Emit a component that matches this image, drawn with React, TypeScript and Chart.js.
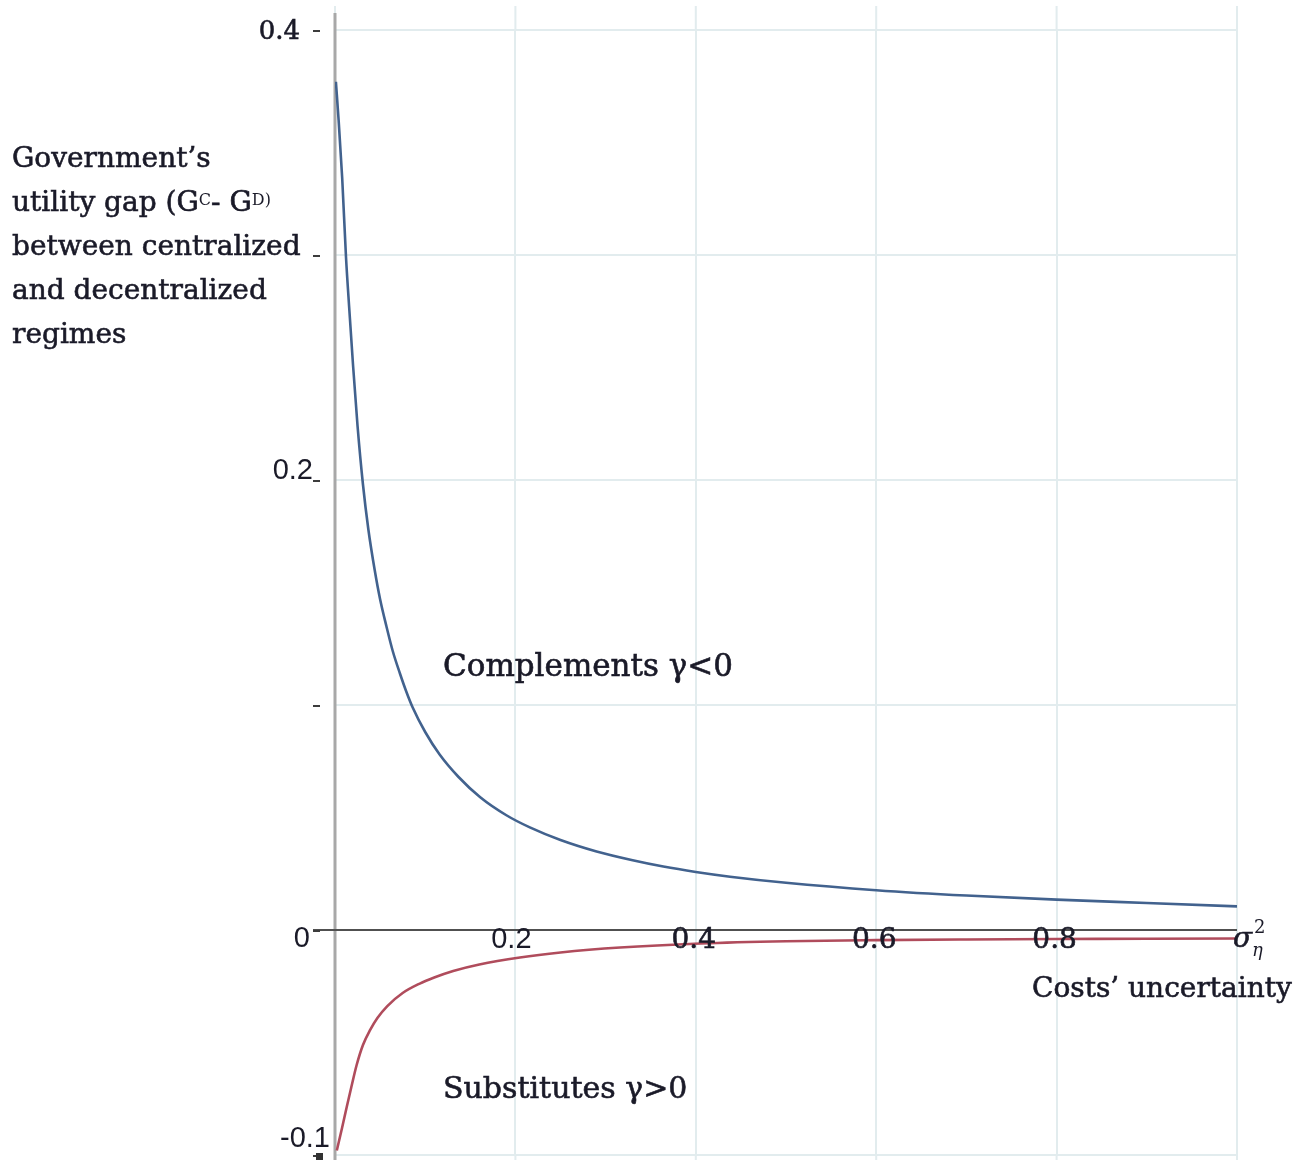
import React, { useEffect, useRef } from "react";
import { Chart, registerables } from "chart.js";

Chart.register(...registerables);

// ---- data ----
const complementsX = [0.001, 0.004, 0.008, 0.0122, 0.016, 0.02, 0.025, 0.031, 0.037, 0.044, 0.05, 0.057, 0.064, 0.072, 0.079, 0.086, 0.1, 0.116, 0.137, 0.161, 0.19, 0.216, 0.25, 0.29, 0.33, 0.364, 0.4, 0.438, 0.5, 0.6, 0.7, 0.8, 0.9, 1.0];
const complementsY = [0.377, 0.36, 0.334, 0.299, 0.275, 0.251, 0.224, 0.198, 0.178, 0.16, 0.147, 0.135, 0.124, 0.114, 0.106, 0.099, 0.088, 0.078, 0.068, 0.059, 0.051, 0.0456, 0.04, 0.0349, 0.031, 0.0282, 0.0258, 0.0237, 0.021, 0.0177, 0.0153, 0.0135, 0.012, 0.0105];

const substitutesX = [0.002, 0.0078, 0.013, 0.018, 0.024, 0.031, 0.039, 0.047, 0.058, 0.075, 0.094, 0.11, 0.131, 0.16, 0.205, 0.25, 0.316, 0.405, 0.5, 0.6, 0.7, 0.8, 0.9, 1.0];
const substitutesY = [-0.098, -0.088, -0.0787, -0.07, -0.06, -0.0511, -0.0444, -0.0391, -0.0338, -0.028, -0.0238, -0.0211, -0.0182, -0.0153, -0.0122, -0.01, -0.0078, -0.006, -0.005, -0.0045, -0.0042, -0.004, -0.0039, -0.0038];

const yTickMarks = [0.4, 0.3, 0.2, 0.1, 0, -0.1];
const yTickValues = [0.4, 0.2, 0, -0.1];
const yTickLabels = ["0.4", "0.2", "0", "-0.1"];
const yTickSerif = [true, false, false, false];
const xTickValues = [0.2, 0.4, 0.6, 0.8];
const xTickLabels = ["0.2", "0.4", "0.6", "0.8"];
const xTickSerif = [false, true, true, true];

const yTitleLines = ["Government\u2019s", "utility gap (G", "between centralized", "and decentralized", "regimes"];
const complementsLabel = "Complements \u03b3<0";
const substitutesLabel = "Substitutes \u03b3>0";
const xTitle = "Costs\u2019 uncertainty";

// ---- style ----
const SERIF = '"DejaVu Serif", serif';
const SANS = '"Liberation Sans", sans-serif';
const TEXT = "#1a1a28";
const BLUE = "rgb(66,98,142)";
const RED = "rgb(176,76,92)";
const GRID = "rgb(226,236,238)";

function heavyText(ctx: CanvasRenderingContext2D, s: string, x: number, y: number) {
  ctx.fillText(s, x, y);
  ctx.strokeText(s, x, y);
}

const decor = {
  id: "decor",
  beforeDatasetsDraw(chart: any) {
    const ctx = chart.ctx;
    const xs = chart.scales.x;
    const ys = chart.scales.y;
    const x0 = xs.getPixelForValue(0);
    const x1 = xs.getPixelForValue(1);
    const y0 = ys.getPixelForValue(0);
    ctx.save();
    ctx.strokeStyle = GRID;
    ctx.lineWidth = 2;
    xs.ticks.forEach((t: any) => {
      const px = xs.getPixelForValue(t.value);
      ctx.beginPath();
      ctx.moveTo(px, 6);
      ctx.lineTo(px, chart.chartArea.top);
      ctx.moveTo(px, chart.chartArea.bottom);
      ctx.lineTo(px, 1160);
      ctx.stroke();
    });
    ctx.strokeStyle = "rgb(168,168,168)";
    ctx.lineWidth = 3;
    ctx.beginPath();
    ctx.moveTo(x0, 13);
    ctx.lineTo(x0, 1160);
    ctx.stroke();
    ctx.strokeStyle = "rgb(80,80,80)";
    ctx.lineWidth = 2;
    ctx.beginPath();
    ctx.moveTo(x0 - 22, y0);
    ctx.lineTo(x1, y0);
    ctx.stroke();
    ctx.strokeStyle = "rgb(60,60,60)";
    ctx.lineWidth = 2;
    yTickMarks.forEach((v) => {
      const py = ys.getPixelForValue(v);
      ctx.beginPath();
      ctx.moveTo(x0 - 22, py + 1);
      ctx.lineTo(x0 - 15, py + 1);
      ctx.stroke();
    });
    ctx.fillStyle = "rgb(50,50,50)";
    ctx.fillRect(x0 - 19, ys.getPixelForValue(-0.1) - 2, 7, 7);
    ctx.restore();
  },
  afterDraw(chart: any) {
    const ctx = chart.ctx;
    const xs = chart.scales.x;
    const ys = chart.scales.y;
    const x0 = xs.getPixelForValue(0);
    const x1 = xs.getPixelForValue(1);
    const y0 = ys.getPixelForValue(0);
    ctx.save();
    ctx.fillStyle = TEXT;
    ctx.strokeStyle = TEXT;
    ctx.lineWidth = 0.6;
    ctx.textBaseline = "alphabetic";

    yTickValues.forEach((v, i) => {
      const py = ys.getPixelForValue(v);
      ctx.textAlign = "right";
      if (yTickSerif[i]) {
        ctx.font = `26px ${SERIF}`;
        heavyText(ctx, yTickLabels[i], x0 - 35, py + 9);
      } else {
        ctx.font = `29px ${SANS}`;
        const dy = v === 0 ? 17 : v < 0 ? -8 : -1;
        const dx = v === 0 ? -25 : v < 0 ? -5 : -22;
        ctx.fillText(yTickLabels[i], x0 + dx, py + dy);
      }
    });

    xTickValues.forEach((v, i) => {
      const px = xs.getPixelForValue(v);
      ctx.textAlign = "center";
      if (xTickSerif[i]) {
        ctx.font = `28px ${SERIF}`;
        heavyText(ctx, xTickLabels[i], px - 2, y0 + 18);
      } else {
        ctx.font = `29px ${SANS}`;
        ctx.fillText(xTickLabels[i], px - 4, y0 + 18);
      }
    });

    ctx.textAlign = "left";
    const lx = 12;
    const baseline = 167;
    const lh = 44;
    yTitleLines.forEach((line, i) => {
      ctx.font = `28px ${SERIF}`;
      const by = baseline + i * lh;
      heavyText(ctx, line, lx, by);
      if (i === 1) {
        let cx = lx + ctx.measureText(line).width;
        ctx.font = `16px ${SERIF}`;
        ctx.fillText("C", cx, by - 6);
        cx += ctx.measureText("C").width;
        ctx.font = `28px ${SERIF}`;
        heavyText(ctx, "- G", cx, by);
        cx += ctx.measureText("- G").width;
        ctx.font = `16px ${SERIF}`;
        ctx.fillText("D)", cx, by - 6);
      }
    });

    ctx.font = `31px ${SERIF}`;
    heavyText(ctx, complementsLabel, 443, 676);
    ctx.font = `30px ${SERIF}`;
    heavyText(ctx, substitutesLabel, 443, 1098);

    ctx.font = `28px ${SERIF}`;
    heavyText(ctx, xTitle, 1032, 997);
    ctx.font = `italic 28px ${SERIF}`;
    heavyText(ctx, "\u03c3", x1 - 4, y0 + 17);
    ctx.font = `18px ${SERIF}`;
    ctx.fillText("2", x1 + 17, y0 + 3);
    ctx.font = `italic 18px ${SERIF}`;
    ctx.fillText("\u03b7", x1 + 15, y0 + 26);
    ctx.restore();
  },
};

export default function App() {
  const ref = useRef<HTMLCanvasElement | null>(null);
  useEffect(() => {
    if (!ref.current) return;
    const chart = new Chart(ref.current, {
      type: "line",
      data: {
        datasets: [
          {
            label: "Complements",
            data: complementsX.map((x, i) => ({ x, y: complementsY[i] })),
            borderColor: BLUE,
            borderWidth: 2.6,
            pointRadius: 0,
            cubicInterpolationMode: "monotone",
            fill: false,
          },
          {
            label: "Substitutes",
            data: substitutesX.map((x, i) => ({ x, y: substitutesY[i] })),
            borderColor: RED,
            borderWidth: 2.6,
            pointRadius: 0,
            cubicInterpolationMode: "monotone",
            fill: false,
          },
        ],
      },
      options: {
        animation: false,
        responsive: false,
        layout: { padding: { left: 335, right: 68, top: 30, bottom: 5 } },
        plugins: { legend: { display: false }, tooltip: { enabled: false }, title: { display: false } },
        scales: {
          x: {
            type: "linear",
            min: 0,
            max: 1,
            ticks: { display: false, stepSize: 0.2 },
            grid: { color: GRID, lineWidth: 2, drawTicks: false },
            border: { display: false },
          },
          y: {
            type: "linear",
            min: -0.1,
            max: 0.4,
            ticks: { display: false, stepSize: 0.1 },
            grid: { color: GRID, lineWidth: 2, drawTicks: false },
            border: { display: false },
          },
        },
      },
      plugins: [decor],
    } as any);
    return () => chart.destroy();
  }, []);
  return (
    <div style={{ position: "absolute", left: 0, top: 0, width: 1305, height: 1160, background: "#fff" }}>
      <canvas ref={ref} width={1305} height={1160} style={{ display: "block" }} />
    </div>
  );
}
